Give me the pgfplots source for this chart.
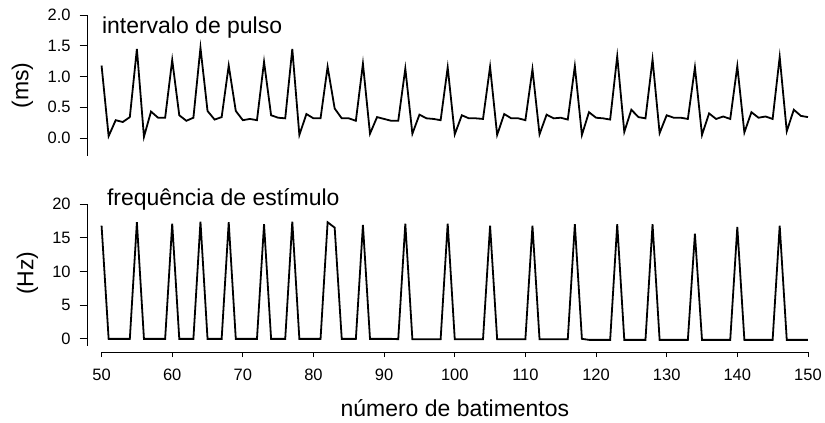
\documentclass[border=0pt]{standalone}
\usepackage{pgfplots}
\pgfplotsset{compat=1.18}
\usepackage{fontspec}
\setmainfont{Liberation Sans}
\begin{document}
\begin{tikzpicture}[x=1bp,y=1bp]
\path (0,0) rectangle (825,423);
\pgfplotsset{
  every axis/.append style={
    scale only axis, clip=false,
    /pgf/number format/assume math mode=true,
    tick label style={font=\fontsize{16.5bp}{19bp}\selectfont, text=black},
    axis line style={line width=0.8bp, black},
    tick style={line width=0.8bp, black},
    tick align=outside,
  }
}
% top panel
\begin{axis}[at={(87.7bp,267bp)}, anchor=south west,
  width=721.3bp, height=140.8bp,
  xmin=48.02, xmax=150, ymin=-0.29, ymax=2.0,
  axis y line*=left, axis x line=none,
  ytick={0,0.5,1,1.5,2}, major tick length=8bp,
  yticklabel style={xshift=-5.5bp, /pgf/number format/.cd, fixed, fixed zerofill, precision=1},
]
\addplot[black, line width=1.8bp, mark=none] coordinates {
(50,1.18)(51,0.03)(52,0.29)(53,0.26)(54,0.34)(55,1.45)(56,0.02)(57,0.43)(58,0.33)(59,0.33)
(60,1.27)(61,0.37)(62,0.28)(63,0.33)(64,1.47)(65,0.44)(66,0.30)(67,0.34)(68,1.18)(69,0.44)
(70,0.29)(71,0.31)(72,0.29)(73,1.24)(74,0.37)(75,0.33)(76,0.32)(77,1.45)(78,0.05)(79,0.39)
(80,0.32)(81,0.32)(82,1.16)(83,0.48)(84,0.32)(85,0.32)(86,0.28)(87,1.21)(88,0.07)(89,0.34)
(90,0.31)(91,0.28)(92,0.28)(93,1.13)(94,0.07)(95,0.38)(96,0.32)(97,0.31)(98,0.29)(99,1.15)
(100,0.06)(101,0.37)(102,0.32)(103,0.32)(104,0.31)(105,1.16)(106,0.05)(107,0.39)(108,0.32)(109,0.32)
(110,0.29)(111,1.12)(112,0.06)(113,0.38)(114,0.32)(115,0.33)(116,0.30)(117,1.17)(118,0.05)(119,0.42)
(120,0.33)(121,0.32)(122,0.30)(123,1.33)(124,0.10)(125,0.46)(126,0.34)(127,0.32)(128,1.28)(129,0.08)
(130,0.37)(131,0.33)(132,0.33)(133,0.31)(134,1.15)(135,0.05)(136,0.40)(137,0.31)(138,0.35)(139,0.31)
(140,1.17)(141,0.09)(142,0.42)(143,0.33)(144,0.35)(145,0.31)(146,1.32)(147,0.11)(148,0.46)(149,0.36)
(150,0.34)
};
\end{axis}
% bottom panel
\begin{axis}[at={(87.7bp,76.95bp)}, anchor=south west,
  width=721.3bp, height=141.75bp,
  xmin=48.02, xmax=150, ymin=-1, ymax=20,
  axis y line*=left, axis x line=none,
  ytick={0,5,10,15,20}, major tick length=8bp,
  yticklabel style={xshift=-5.5bp},
]
\addplot[black, line width=1.8bp, mark=none] coordinates {
(50,16.8)(51,0)(52,0)(53,0)(54,0)(55,17.3)(56,0)(57,0)(58,0)(59,0)
(60,17.1)(61,0)(62,0)(63,0)(64,17.4)(65,0)(66,0)(67,0)(68,17.3)(69,0)
(70,0)(71,0)(72,0)(73,17.0)(74,0)(75,0)(76,0)(77,17.4)(78,0)(79,0)
(80,0)(81,0)(82,17.3)(83,16.5)(84,0)(85,0)(86,0)(87,16.9)(88,0)(89,0)
(90,0)(91,0)(92,-0.05)(93,17.1)(94,-0.05)(95,-0.05)(96,-0.05)(97,-0.05)(98,-0.05)(99,17.1)
(100,-0.05)(101,-0.05)(102,-0.05)(103,-0.05)(104,-0.05)(105,16.8)(106,-0.05)(107,-0.05)(108,-0.05)(109,-0.05)
(110,-0.05)(111,16.8)(112,-0.05)(113,-0.05)(114,-0.05)(115,-0.05)(116,-0.05)(117,17.0)(118,0)(119,-0.15)
(120,-0.15)(121,-0.15)(122,-0.15)(123,17.0)(124,-0.15)(125,-0.15)(126,-0.15)(127,-0.15)(128,17.0)(129,-0.15)
(130,-0.15)(131,-0.15)(132,-0.15)(133,-0.15)(134,15.6)(135,-0.15)(136,-0.15)(137,-0.15)(138,-0.15)(139,-0.15)
(140,16.6)(141,-0.15)(142,-0.15)(143,-0.15)(144,-0.15)(145,-0.15)(146,16.8)(147,-0.15)(148,-0.15)(149,-0.15)
(150,-0.15)
};
\end{axis}
% detached x axis
\begin{axis}[at={(101.7bp,70.3bp)}, anchor=south west,
  width=707.3bp, height=1bp,
  xmin=50, xmax=150, ymin=0, ymax=1,
  axis x line*=bottom, axis y line=none,
  xtick={50,60,...,150}, major tick length=5bp,
  xticklabel style={yshift=-8bp},
]
\addplot[draw=none] coordinates {(50,0.5)(150,0.5)};
\end{axis}
\node[anchor=base west, inner sep=0, font=\fontsize{23bp}{27bp}\selectfont] at (102,389.7) {intervalo de pulso};
\node[anchor=base west, inner sep=0, font=\fontsize{23bp}{27bp}\selectfont] at (107,217) {frequência de estímulo};
\node[anchor=base, inner sep=0, rotate=90, font=\fontsize{23bp}{27bp}\selectfont] at (28.5,337.5) {(ms)};
\node[anchor=base, inner sep=0, rotate=90, font=\fontsize{23bp}{27bp}\selectfont] at (33.5,149.5) {(Hz)};
\node[anchor=base, inner sep=0, font=\fontsize{23bp}{27bp}\selectfont] at (455.5,6) {número de batimentos};
\end{tikzpicture}
\end{document}
